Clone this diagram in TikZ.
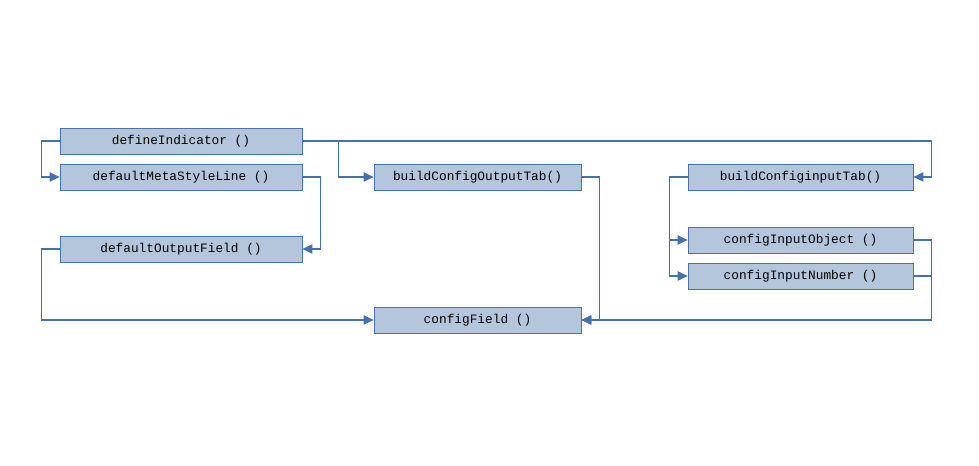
\documentclass[tikz,border=0pt]{standalone}
\usepackage{fontspec}
\setmonofont{Liberation Mono}
\usetikzlibrary{arrows.meta}
\definecolor{boxfill}{HTML}{B4C6DC}
\definecolor{boxline}{HTML}{4A72AC}
\definecolor{wire}{HTML}{4470AE}

\begin{document}
\begin{tikzpicture}[x=0.75pt,y=0.75pt,yscale=-1,xscale=1,
    fn/.style={draw=boxline,fill=boxfill,line width=0.6pt,minimum height=19.5pt,inner sep=0pt,
      font=\ttfamily\fontsize{9.6}{11}\selectfont},
    wide/.style={fn,minimum width=181.5pt},
    mid/.style={fn,minimum width=155.25pt},
    side/.style={fn,minimum width=168.75pt},
    wire/.style={draw=wire,line width=0.8pt,-{Triangle[length=7.5pt,width=7pt]}}]
    \useasboundingbox (0,0) rectangle (979,466);
    % left column
    \node [wide] (defInd) at (181,141) {defineIndicator ()};
    \node [wide] (defMeta) at (181,177) {defaultMetaStyleLine ()};
    \node [wide] (defOut) at (181,249) {defaultOutputField ()};
    % middle column
    \node [mid] (outTab) at (477.5,177) {buildConfigOutputTab()};
    \node [mid] (cfgField) at (477.5,320) {configField ()};
    % right column
    \node [side] (inTab) at (800.5,177) {buildConfiginputTab()};
    \node [side] (inObj) at (800.5,240) {configInputObject ()};
    \node [side] (inNum) at (800.5,276) {configInputNumber ()};
    % connectors
    \draw [wire] (defInd.west) -- ++(-18,0) |- (defMeta.west);
    \draw [wire] (defInd.east) -- ++(36,0) |- (outTab.west);
    \draw [wire] (defInd.east) -- ++(629,0) |- (inTab.east);
    \draw [wire] (defMeta.east) -- ++(18,0) |- (defOut.east);
    \draw [wire] (defOut.west) -- ++(-18,0) |- (cfgField.west);
    \draw [wire] (outTab.east) -- ++(18,0) |- (cfgField.east);
    \draw [wire] (inTab.west) -- ++(-18,0) |- (inObj.west);
    \draw [wire] (inTab.west) -- ++(-18,0) |- (inNum.west);
    \draw [wire] (inObj.east) -- ++(18,0) |- (cfgField.east);
    \draw [draw=wire,line width=0.8pt] (inNum.east) -- ++(18,0);
\end{tikzpicture}
\end{document}
